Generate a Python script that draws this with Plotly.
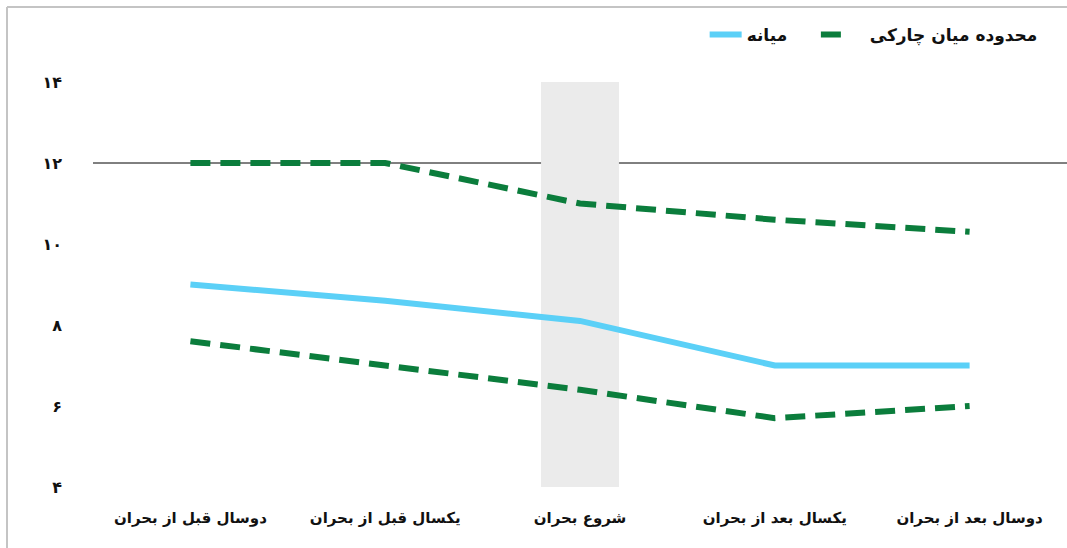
import plotly.graph_objects as go

categories = ["دوسال قبل از بحران", "یکسال قبل از بحران", "شروع بحران", "یکسال بعد از بحران", "دوسال بعد از بحران"]
median = [9.0, 8.6, 8.1, 7.0, 7.0]
q3 = [12.0, 12.0, 11.0, 10.6, 10.3]
q1 = [7.6, 7.0, 6.4, 5.7, 6.0]
ytick_vals = [4, 6, 8, 10, 12, 14]
ytick_text = ["۴", "۶", "۸", "۱۰", "۱۲", "۱۴"]
name_median = "میانه"
name_iqr = "محدوده میان چارکی"

x = list(range(len(categories)))
green = "#0b7d3c"
blue = "#5bd0f7"
font = "DejaVu Sans"
pad = "\u00a0"

fig = go.Figure()
fig.add_trace(go.Scatter(x=x, y=q3, mode="lines", name=name_iqr, showlegend=False,
                         line=dict(color=green, width=6, dash="20px,10px")))
fig.add_trace(go.Scatter(x=x, y=q1, mode="lines", name=name_iqr, showlegend=False,
                         line=dict(color=green, width=6, dash="20px,10px")))
fig.add_trace(go.Scatter(x=x, y=median, mode="lines", name=name_median + pad * 4, legendrank=1,
                         line=dict(color=blue, width=6)))
# legend entry for the interquartile range (single dash symbol)
fig.add_trace(go.Scatter(x=[None], y=[None], mode="lines", name=pad * 2 + name_iqr, legendrank=2,
                         line=dict(color=green, width=6, dash="20px,30px")))

fig.add_shape(type="rect", x0=1.8, x1=2.2, y0=4, y1=14, xref="x", yref="y",
              fillcolor="#ebebeb", line=dict(width=0), layer="below")
fig.add_shape(type="line", x0=0, x1=1, y0=12, y1=12, xref="paper", yref="y",
              line=dict(color="#000000", width=1), layer="below")
# outer frame (top and left)
fig.add_shape(type="line", x0=(7 - 93) / 974, x1=1, y0=(487 - 7) / 405, y1=(487 - 7) / 405,
              xref="paper", yref="paper", line=dict(color="#c4c4c4", width=2))
fig.add_shape(type="line", x0=(7 - 93) / 974, x1=(7 - 93) / 974, y0=(487 - 7) / 405, y1=-61 / 405,
              xref="paper", yref="paper", line=dict(color="#c4c4c4", width=2))

fig.update_layout(
    width=1067, height=548,
    margin=dict(l=93, r=0, t=82, b=61),
    paper_bgcolor="white", plot_bgcolor="white",
    font=dict(family=font, color="#111111", size=15),
    showlegend=True,
    legend=dict(orientation="h", x=0.975, xanchor="right", y=1.116, yanchor="middle",
                font=dict(family=font, size=17, color="#111111", weight="bold"),
                itemwidth=32, bgcolor="rgba(0,0,0,0)"),
    xaxis=dict(range=[-0.5, 4.5], tickmode="array", tickvals=x, ticktext=categories,
               showgrid=False, zeroline=False, showline=False, ticks="",
               ticklabelstandoff=20,
               tickfont=dict(family=font, size=15, color="#111111", weight="bold")),
    yaxis=dict(range=[4, 14], tickmode="array", tickvals=ytick_vals, ticktext=ytick_text,
               showgrid=False, zeroline=False, showline=False, ticks="",
               ticklabelstandoff=30,
               tickfont=dict(family=font, size=16, color="#111111", weight="bold")),
)

fig.write_html("out.html")
